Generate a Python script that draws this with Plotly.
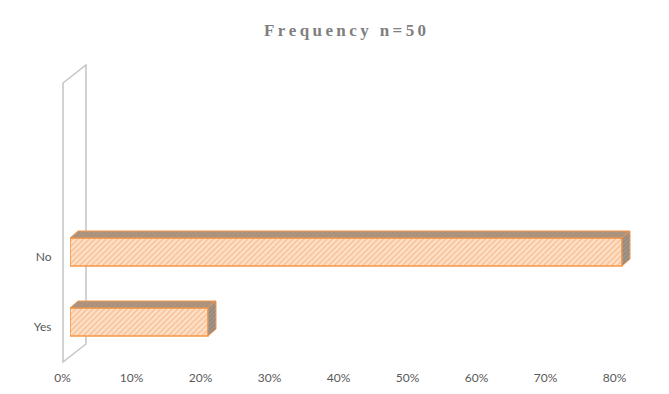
import plotly.graph_objects as go

# ---- data ----
categories = ["Yes", "No"]
values = [0.20, 0.80]
tick_values = [0.0, 0.1, 0.2, 0.3, 0.4, 0.5, 0.6, 0.7, 0.8]
title_text = "Frequency n=50"

W, H = 669, 394


def px_x(p):
    return p / W


def px_y(p):
    return 1 - p / H


# axis geometry (pixels)
X0_FRONT = 62.5      # pixel of 0 on the front (label) plane
X0_BAR = 70.0        # pixel of 0 for the bar front faces
PX_PER_UNIT = 690.0  # pixels per 100%
X_MAX = 0.85
Y_TOP_BAR, Y_BOT_BAR = 66.0, 362.0
PX_PER_CAT = 70.0
YES_CENTER = 322.0
y_lo = -(Y_BOT_BAR - YES_CENTER) / PX_PER_CAT
y_hi = (YES_CENTER - Y_TOP_BAR) / PX_PER_CAT
LABEL_SHIFT = 5.0

bar_w = 28.0 / PX_PER_CAT
dx = 8.0 / PX_PER_UNIT
dy = 7.0 / PX_PER_CAT

ORANGE = "#F79646"

fig = go.Figure()

# dummy trace to anchor the labelled axes
fig.add_trace(go.Scatter(x=[], y=[], xaxis="x", yaxis="y", showlegend=False, hoverinfo="skip"))

ypos = list(range(len(categories)))

# front faces
fig.add_trace(go.Bar(
    x=values, y=ypos, orientation="h", width=bar_w,
    xaxis="x2", yaxis="y2", showlegend=False, hoverinfo="skip",
    marker=dict(
        color="#FAC090",
        line=dict(color=ORANGE, width=1.5),
        pattern=dict(shape="/", fgcolor="#F6A668", bgcolor="#FDE3CE", size=4, solidity=0.5),
    ),
))

# 3D depth faces computed from the values
for v, yc in zip(values, ypos):
    top = yc + bar_w / 2
    bot = yc - bar_w / 2
    fig.add_trace(go.Scatter(
        x=[0, v, v + dx, dx, 0], y=[top, top, top + dy, top + dy, top],
        xaxis="x2", yaxis="y2", mode="lines", fill="toself",
        fillcolor="#A8917F", line=dict(color=ORANGE, width=1),
        fillpattern=dict(shape="/", fgcolor="#C99A78", bgcolor="#A39080", size=3, solidity=0.45),
        showlegend=False, hoverinfo="skip",
    ))
    fig.add_trace(go.Scatter(
        x=[v, v, v + dx, v + dx, v], y=[top, bot, bot + dy, top + dy, top],
        xaxis="x2", yaxis="y2", mode="lines", fill="toself",
        fillcolor="#8E8A86", line=dict(color=ORANGE, width=1),
        fillpattern=dict(shape="/", fgcolor="#7A736C", bgcolor="#A0968C", size=3, solidity=0.4),
        showlegend=False, hoverinfo="skip",
    ))

x_dom1 = [px_x(X0_FRONT), px_x(X0_FRONT + X_MAX * PX_PER_UNIT)]
x_dom2 = [px_x(X0_BAR), px_x(X0_BAR + X_MAX * PX_PER_UNIT)]
y_dom2 = [px_y(Y_BOT_BAR), px_y(Y_TOP_BAR)]
y_dom1 = [px_y(Y_BOT_BAR + LABEL_SHIFT), px_y(Y_TOP_BAR + LABEL_SHIFT)]

tick_font = dict(family="Lato, Open Sans, sans-serif", size=12, color="#595959")

# wall (decoration)
wall = [(63, 83), (63, 362), (86, 344), (86, 65)]
path = "M " + " L ".join(f"{px_x(a)},{px_y(b)}" for a, b in wall) + " Z"
fig.add_shape(type="path", path=path, xref="paper", yref="paper",
              line=dict(color="#C4C4C4", width=1.5), layer="below")

spaced_title = "\u2009".join(title_text)

fig.add_annotation(
    text=f"<b>{spaced_title}</b>", x=px_x(345), y=px_y(31), xref="paper", yref="paper",
    showarrow=False, xanchor="center", yanchor="middle",
    font=dict(family="Liberation Serif, Times New Roman, serif", size=17, color="#7F7F7F"),
)

fig.update_layout(
    width=W, height=H,
    margin=dict(l=0, r=0, t=0, b=0, autoexpand=False),
    paper_bgcolor="white", plot_bgcolor="rgba(0,0,0,0)",
    showlegend=False,
    xaxis=dict(domain=x_dom1, range=[0, X_MAX], tickvals=tick_values, tickformat=".0%",
               showgrid=False, zeroline=False, showline=False, ticks="", automargin=False,
               tickfont=tick_font, anchor="y", ticklabelstandoff=2, fixedrange=True),
    yaxis=dict(domain=y_dom1, range=[y_lo, y_hi], tickvals=ypos, ticktext=categories,
               showgrid=False, zeroline=False, showline=False, ticks="", automargin=False,
               tickfont=tick_font, anchor="x", ticklabelstandoff=10, fixedrange=True),
    xaxis2=dict(domain=x_dom2, range=[0, X_MAX], visible=False, anchor="y2", fixedrange=True,
                automargin=False),
    yaxis2=dict(domain=y_dom2, range=[y_lo, y_hi], visible=False, anchor="x2", fixedrange=True,
                automargin=False),
)

fig.write_html("out.html")
